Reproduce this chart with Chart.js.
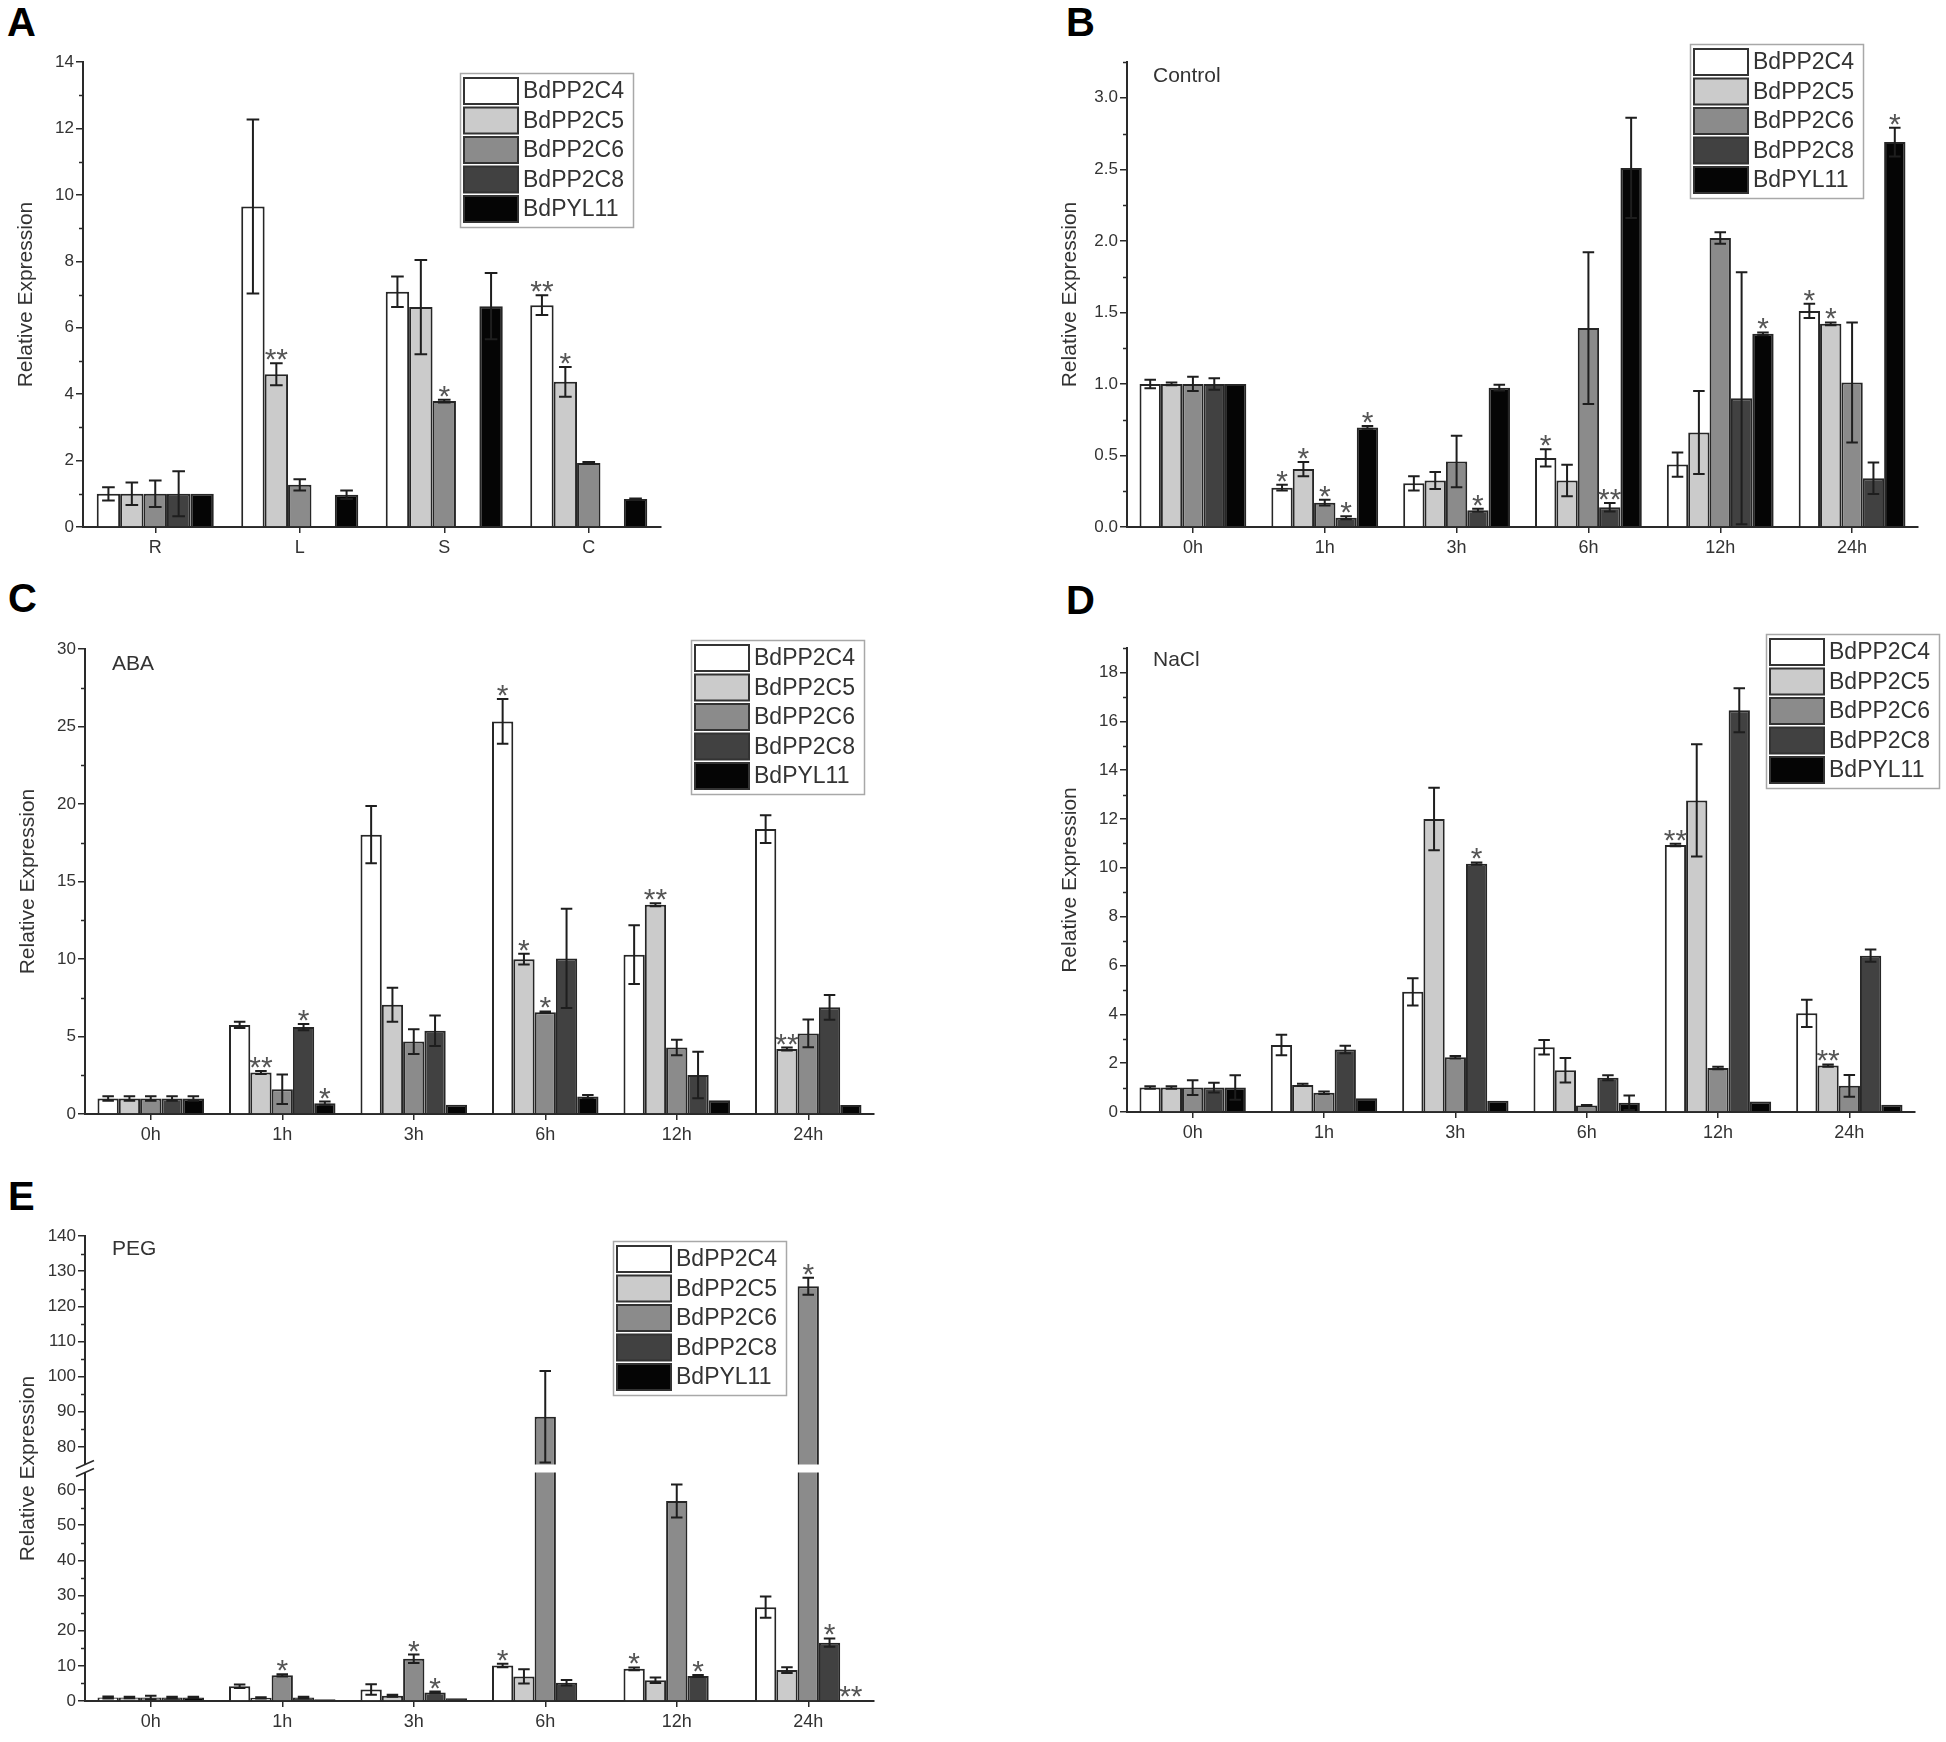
<!DOCTYPE html>
<html>
<head>
<meta charset="utf-8">
<script src="https://cdn.jsdelivr.net/npm/chart.js@4.4.1/dist/chart.umd.min.js"></script>
<style>
  body { margin: 0; background: #fff; width: 1946px; height: 1742px; position: relative; overflow: hidden; }
  canvas { position: absolute; }
  .tag { position: absolute; font-family: "Liberation Sans", Arial, sans-serif; font-weight: bold; font-size: 40px; line-height: 1; color: #000; }
</style>
</head>
<body>
<div class="tag" style="left:7px;top:2px">A</div>
<div class="tag" style="left:1066px;top:2px">B</div>
<div class="tag" style="left:8px;top:578px">C</div>
<div class="tag" style="left:1066px;top:580px">D</div>
<div class="tag" style="left:8px;top:1176px">E</div>
<script>
// ---- data ----
const genes = ['BdPP2C4', 'BdPP2C5', 'BdPP2C6', 'BdPP2C8', 'BdPYL11'];
const tissues = ['R', 'L', 'S', 'C'];
const hours = ['0h', '1h', '3h', '6h', '12h', '24h'];

// A: tissues
const A_C4 = [1.0, 9.65, 7.08, 6.68];
const A_C4_err = [0.2, 2.62, 0.46, 0.3];
const A_C5 = [1.0, 4.6, 6.62, 4.37];
const A_C5_err = [0.34, 0.33, 1.42, 0.45];
const A_C6 = [1.0, 1.27, 3.79, 1.93];
const A_C6_err = [0.4, 0.17, 0.04, 0.03];
const A_C8 = [1.0, null, 0.03, null];
const A_C8_err = [0.68, 0, 0, 0];
const A_PYL = [1.0, 0.97, 6.65, 0.84];
const A_PYL_err = [0, 0.13, 1.0, 0.02];
const A_sig = [['BdPP2C5', 'L', '**'], ['BdPP2C6', 'S', '*'], ['BdPP2C4', 'C', '**'], ['BdPP2C5', 'C', '*']];

// B: Control
const B_C4 = [1.0, 0.275, 0.305, 0.483, 0.436, 1.51];
const B_C4_err = [0.03, 0.02, 0.05, 0.06, 0.085, 0.05];
const B_C5 = [1.0, 0.405, 0.325, 0.325, 0.66, 1.42];
const B_C5_err = [0.01, 0.05, 0.06, 0.11, 0.29, 0.01];
const B_C6 = [1.0, 0.17, 0.457, 1.39, 2.02, 1.01];
const B_C6_err = [0.05, 0.02, 0.18, 0.53, 0.04, 0.42];
const B_C8 = [1.0, 0.065, 0.117, 0.138, 0.90, 0.34];
const B_C8_err = [0.04, 0.01, 0.01, 0.03, 0.88, 0.11];
const B_PYL = [1.0, 0.696, 0.974, 2.51, 1.35, 2.69];
const B_PYL_err = [0, 0.01, 0.02, 0.35, 0.01, 0.1];
const B_sig = [['BdPP2C4', '1h', '*'], ['BdPP2C5', '1h', '*'], ['BdPP2C6', '1h', '*'], ['BdPP2C8', '1h', '*'],
  ['BdPYL11', '1h', '*'], ['BdPP2C8', '3h', '*'], ['BdPP2C4', '6h', '*'], ['BdPP2C8', '6h', '**'],
  ['BdPYL11', '12h', '*'], ['BdPP2C4', '24h', '*'], ['BdPP2C5', '24h', '*'], ['BdPYL11', '24h', '*']];

// C: ABA
const C_C4 = [1.0, 5.75, 18.02, 25.33, 10.28, 18.38];
const C_C4_err = [0.15, 0.2, 1.85, 1.45, 1.9, 0.9];
const C_C5 = [1.0, 2.68, 7.05, 9.99, 13.5, 4.19];
const C_C5_err = [0.15, 0.1, 1.1, 0.35, 0.1, 0.1];
const C_C6 = [1.0, 1.6, 4.67, 6.57, 4.29, 5.2];
const C_C6_err = [0.15, 0.95, 0.8, 0.05, 0.5, 0.9];
const C_C8 = [1.0, 5.61, 5.37, 10.04, 2.52, 6.88];
const C_C8_err = [0.15, 0.2, 0.98, 3.2, 1.5, 0.8];
const C_PYL = [1.0, 0.7, 0.6, 1.13, 0.89, 0.58];
const C_PYL_err = [0.15, 0.1, 0, 0.1, 0, 0];
const C_sig = [['BdPP2C5', '1h', '**'], ['BdPP2C8', '1h', '*'], ['BdPYL11', '1h', '*'], ['BdPP2C4', '6h', '*'],
  ['BdPP2C5', '6h', '*'], ['BdPP2C6', '6h', '*'], ['BdPP2C5', '12h', '**'], ['BdPP2C5', '24h', '**']];

// D: NaCl
const D_C4 = [1.0, 2.74, 4.92, 2.65, 10.93, 4.04];
const D_C4_err = [0.05, 0.42, 0.56, 0.3, 0.05, 0.56];
const D_C5 = [1.0, 1.11, 12.0, 1.71, 12.76, 1.9];
const D_C5_err = [0.05, 0.05, 1.28, 0.5, 2.3, 0.05];
const D_C6 = [1.0, 0.79, 2.24, 0.27, 1.8, 1.07];
const D_C6_err = [0.3, 0.05, 0.05, 0.02, 0.05, 0.45];
const D_C8 = [1.0, 2.56, 10.17, 1.4, 16.45, 6.4];
const D_C8_err = [0.2, 0.15, 0.05, 0.1, 0.9, 0.25];
const D_PYL = [1.0, 0.56, 0.46, 0.38, 0.43, 0.3];
const D_PYL_err = [0.5, 0, 0, 0.3, 0, 0];
const D_sig = [['BdPP2C8', '3h', '*'], ['BdPP2C4', '12h', '**'], ['BdPP2C5', '24h', '**']];

// E: PEG
const E_C4 = [1.0, 4.2, 3.3, 10.1, 9.15, 26.7];
const E_C4_err = [0.3, 0.5, 1.5, 0.5, 0.4, 3.0];
const E_C5 = [1.0, 0.9, 1.5, 7.0, 5.9, 8.8];
const E_C5_err = [0.2, 0.2, 0.3, 2.0, 0.8, 0.8];
const E_C6 = [1.0, 7.3, 12.0, 88.6, 56.9, 125.7];
const E_C6_err = [0.5, 0.3, 1.2, 13.0, 4.7, 2.4];
const E_C8 = [1.0, 1.0, 2.4, 5.2, 7.1, 16.6];
const E_C8_err = [0.2, 0.2, 0.3, 0.8, 0.3, 1.2];
const E_PYL = [1.0, 0.5, 0.8, 0.3, 0.2, 0.2];
const E_PYL_err = [0.2, 0, 0, 0, 0, 0];
const E_sig = [['BdPP2C6', '1h', '*'], ['BdPP2C6', '3h', '*'], ['BdPP2C8', '3h', '*'], ['BdPP2C4', '6h', '*'],
  ['BdPP2C4', '12h', '*'], ['BdPP2C8', '12h', '*'], ['BdPP2C6', '24h', '*'], ['BdPP2C8', '24h', '*'],
  ['BdPYL11', '24h', '**']];

// broken y axis of panel E
const BREAK_FROM = 65;
const BREAK_TO = 75;
const BREAK_GAP = 8;

// ---- drawing ----
const FONT = '"Liberation Sans", Arial, sans-serif';
const FILLS = ['#ffffff', '#cbcbcb', '#8b8b8b', '#414141', '#050505'];
const INK = '#2a2a2a';
const PAD_L = 80, PAD_T = 30, PAD_R = 30, PAD_B = 45;

Chart.defaults.font.family = FONT;

class BrokenLinearScale extends Chart.LinearScale {
  static id = 'brokenLinear';
  static defaults = Chart.LinearScale.defaults;

  gapFrac() { return BREAK_GAP / (this._length || 1); }

  toDecimal(v) {
    const g = this.gapFrac();
    const k = (1 - g) / ((BREAK_FROM - this.min) + (this.max - BREAK_TO));
    const low = (BREAK_FROM - this.min) * k;
    if (v <= BREAK_FROM) return (v - this.min) * k;
    if (v >= BREAK_TO) return low + g + (v - BREAK_TO) * k;
    return low + (v - BREAK_FROM) / (BREAK_TO - BREAK_FROM) * g;
  }

  getPixelForValue(v) {
    if (v === null || isNaN(v)) return NaN;
    return this.getPixelForDecimal(this.toDecimal(v));
  }

  getValueForPixel(px) {
    const d = this.getDecimalForPixel(px);
    const g = this.gapFrac();
    const k = (1 - g) / ((BREAK_FROM - this.min) + (this.max - BREAK_TO));
    const low = (BREAK_FROM - this.min) * k;
    if (d <= low) return this.min + d / k;
    if (d >= low + g) return BREAK_TO + (d - low - g) / k;
    return BREAK_FROM + (d - low) / g * (BREAK_TO - BREAK_FROM);
  }
}
Chart.register(BrokenLinearScale);

const decoPlugin = {
  id: 'deco',
  afterDatasetsDraw(chart, args, opts) {
    const ctx = chart.ctx;
    const y = chart.scales.y;
    const area = chart.chartArea;

    if (opts.broken) {
      const y1 = y.getPixelForValue(BREAK_TO);
      const y2 = y.getPixelForValue(BREAK_FROM);
      ctx.save();
      ctx.fillStyle = '#fff';
      ctx.fillRect(area.left - 14, y1, area.right - area.left + 14, y2 - y1);
      ctx.strokeStyle = INK;
      ctx.lineWidth = 1.6;
      [y1, y2].forEach(yy => {
        ctx.beginPath();
        ctx.moveTo(area.left - 9, yy + 4);
        ctx.lineTo(area.left + 9, yy - 4);
        ctx.stroke();
      });
      ctx.restore();
    }

    // error bars
    ctx.save();
    ctx.strokeStyle = '#1e1e1e';
    ctx.lineWidth = 2;
    chart.data.datasets.forEach((ds, di) => {
      const meta = chart.getDatasetMeta(di);
      meta.data.forEach((bar, i) => {
        const v = ds.data[i];
        const e = ds.errors[i];
        if (v === null || !e) return;
        const top = y.getPixelForValue(v + e);
        const bot = y.getPixelForValue(Math.max(0, v - e));
        const cap = bar.width * 0.27;
        ctx.beginPath();
        ctx.moveTo(bar.x, top); ctx.lineTo(bar.x, bot);
        ctx.moveTo(bar.x - cap, top); ctx.lineTo(bar.x + cap, top);
        ctx.moveTo(bar.x - cap, bot); ctx.lineTo(bar.x + cap, bot);
        ctx.stroke();
      });
    });
    ctx.restore();

    // significance marks, glyph bottom kept 3px above the error cap
    ctx.save();
    ctx.fillStyle = '#555';
    ctx.font = '30px ' + FONT;
    ctx.textAlign = 'center';
    ctx.textBaseline = 'alphabetic';
    const m = ctx.measureText('*');
    const lift = -m.actualBoundingBoxDescent;
    (opts.sig || []).forEach(([gene, cat, mark]) => {
      const di = chart.data.datasets.findIndex(d => d.label === gene);
      const ci = chart.data.labels.indexOf(cat);
      const ds = chart.data.datasets[di];
      const bar = chart.getDatasetMeta(di).data[ci];
      const v = ds.data[ci] || 0;
      const top = y.getPixelForValue(v + (ds.errors[ci] || 0));
      ctx.fillText(mark, bar.x, top - 3 + lift);
    });
    ctx.restore();
  },
  afterDraw(chart, args, opts) {
    const ctx = chart.ctx;
    const y = chart.scales.y;
    const area = chart.chartArea;

    // minor ticks
    ctx.save();
    ctx.strokeStyle = INK;
    ctx.lineWidth = 1.5;
    const n = Math.round(y.max / opts.minor);
    for (let j = 1; j <= n; j++) {
      const v = j * opts.minor;
      if (Math.abs(v / opts.major - Math.round(v / opts.major)) < 1e-6) continue;
      if (opts.broken && v >= BREAK_FROM && v <= BREAK_TO) continue;
      const py = Math.round(y.getPixelForValue(v)) + 0.5;
      ctx.beginPath();
      ctx.moveTo(area.left - 4, py);
      ctx.lineTo(area.left, py);
      ctx.stroke();
    }
    ctx.restore();

    // condition label
    if (opts.note) {
      ctx.save();
      ctx.fillStyle = '#333';
      ctx.font = '21px ' + FONT;
      ctx.textBaseline = 'middle';
      ctx.fillText(opts.note, opts.noteXY[0] - opts.origin[0], opts.noteXY[1] - opts.origin[1]);
      ctx.restore();
    }

    // legend box
    const lx = opts.legendXY[0] - opts.origin[0];
    const ly = opts.legendXY[1] - opts.origin[1];
    const rowH = 29.5;
    ctx.save();
    ctx.fillStyle = '#fff';
    ctx.fillRect(lx, ly, 173, 154);
    ctx.strokeStyle = '#a8a8a8';
    ctx.lineWidth = 1.5;
    ctx.strokeRect(lx + 0.5, ly + 0.5, 173, 154);
    ctx.font = '23px ' + FONT;
    ctx.textBaseline = 'middle';
    chart.data.datasets.forEach((ds, i) => {
      const sy = ly + 5 + i * rowH;
      ctx.fillStyle = ds.backgroundColor;
      ctx.fillRect(lx + 4, sy, 54, 26);
      ctx.strokeStyle = '#333';
      ctx.lineWidth = 2;
      ctx.strokeRect(lx + 4, sy, 54, 26);
      ctx.fillStyle = '#333';
      ctx.fillText(ds.label, lx + 63, sy + 14);
    });
    ctx.restore();
  }
};

function makePanel(p) {
  const { l, t, r, b } = p.rect;
  const w = r - l + PAD_L + PAD_R;
  const h = b - t + PAD_T + PAD_B;
  const origin = [l - PAD_L, t - PAD_T];
  const c = document.createElement('canvas');
  c.width = w; c.height = h;
  c.style.left = origin[0] + 'px';
  c.style.top = origin[1] + 'px';
  c.style.width = w + 'px';
  c.style.height = h + 'px';
  document.body.appendChild(c);

  new Chart(c, {
    type: 'bar',
    data: {
      labels: p.labels,
      datasets: genes.map((g, i) => ({
        label: g,
        data: p.values[i],
        errors: p.errors[i],
        backgroundColor: FILLS[i],
        borderColor: '#262626',
        borderWidth: 2,
        borderSkipped: 'start',
        categoryPercentage: 0.81,
        barPercentage: 1.0
      }))
    },
    options: {
      responsive: false,
      animation: false,
      devicePixelRatio: 1,
      layout: { padding: { left: 0, top: PAD_T, right: PAD_R, bottom: 0 } },
      plugins: {
        legend: { display: false },
        tooltip: { enabled: false },
        deco: {
          sig: p.sig, minor: p.minor, major: p.step, broken: !!p.broken,
          note: p.note, noteXY: p.noteXY, legendXY: p.legendXY, origin: origin
        }
      },
      scales: {
        x: {
          grid: { offset: false, drawOnChartArea: false, tickLength: 6, tickColor: INK, lineWidth: 1.5 },
          border: { color: INK, width: 2 },
          ticks: { color: '#333', font: { size: 18 }, padding: 4, maxRotation: 0 },
          afterFit: s => { s.height = PAD_B; }
        },
        y: {
          type: p.broken ? 'brokenLinear' : 'linear',
          min: 0,
          max: p.max,
          grid: { drawOnChartArea: false, tickLength: 7, tickColor: INK, lineWidth: 1.5 },
          border: { color: INK, width: 2 },
          ticks: {
            stepSize: p.step,
            includeBounds: false,
            color: '#333',
            font: { size: 17 },
            padding: 2,
            callback: v => p.fmt(v)
          },
          title: {
            display: true,
            text: 'Relative Expression',
            color: '#333',
            font: { size: 21 },
            padding: { top: 11, bottom: 0 }
          },
          afterBuildTicks: s => {
            if (p.broken) s.ticks = s.ticks.filter(tk => tk.value <= BREAK_FROM || tk.value >= BREAK_TO);
          },
          afterFit: s => { s.width = PAD_L; }
        }
      }
    },
    plugins: [decoPlugin]
  });
}

const asInt = v => String(Math.round(v));

makePanel({
  rect: { l: 83, t: 62, r: 661, b: 527 },
  labels: tissues,
  values: [A_C4, A_C5, A_C6, A_C8, A_PYL],
  errors: [A_C4_err, A_C5_err, A_C6_err, A_C8_err, A_PYL_err],
  sig: A_sig, max: 14, step: 2, minor: 1, fmt: asInt,
  legendXY: [460, 73]
});

makePanel({
  rect: { l: 1127, t: 62, r: 1918, b: 527 },
  labels: hours,
  values: [B_C4, B_C5, B_C6, B_C8, B_PYL],
  errors: [B_C4_err, B_C5_err, B_C6_err, B_C8_err, B_PYL_err],
  sig: B_sig, max: 3.25, step: 0.5, minor: 0.25, fmt: v => v.toFixed(1),
  note: 'Control', noteXY: [1153, 76],
  legendXY: [1690, 44]
});

makePanel({
  rect: { l: 85, t: 649, r: 874, b: 1114 },
  labels: hours,
  values: [C_C4, C_C5, C_C6, C_C8, C_PYL],
  errors: [C_C4_err, C_C5_err, C_C6_err, C_C8_err, C_PYL_err],
  sig: C_sig, max: 30, step: 5, minor: 2.5, fmt: asInt,
  note: 'ABA', noteXY: [112, 664],
  legendXY: [691, 640]
});

makePanel({
  rect: { l: 1127, t: 648, r: 1915, b: 1112 },
  labels: hours,
  values: [D_C4, D_C5, D_C6, D_C8, D_PYL],
  errors: [D_C4_err, D_C5_err, D_C6_err, D_C8_err, D_PYL_err],
  sig: D_sig, max: 19, step: 2, minor: 1, fmt: asInt,
  note: 'NaCl', noteXY: [1153, 660],
  legendXY: [1766, 634]
});

makePanel({
  rect: { l: 85, t: 1236, r: 874, b: 1701 },
  labels: hours,
  values: [E_C4, E_C5, E_C6, E_C8, E_PYL],
  errors: [E_C4_err, E_C5_err, E_C6_err, E_C8_err, E_PYL_err],
  sig: E_sig, max: 140, step: 10, minor: 5, fmt: asInt, broken: true,
  note: 'PEG', noteXY: [112, 1249],
  legendXY: [613, 1241]
});
</script>
</body>
</html>
